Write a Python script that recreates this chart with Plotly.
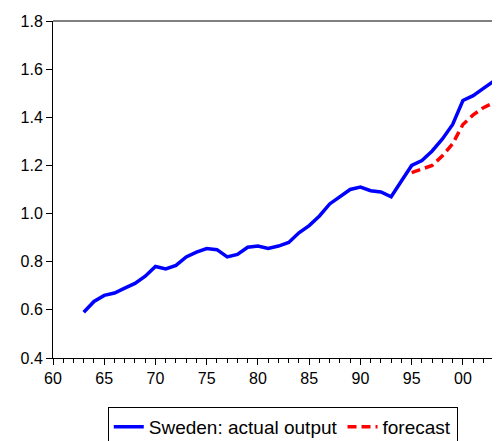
import plotly.graph_objects as go

years = list(range(1963, 2005))
actual = [0.59,0.635,0.66,0.67,0.69,0.71,0.74,0.78,0.77,0.785,0.82,0.84,0.855,0.85,0.82,0.83,0.86,0.865,0.855,0.865,0.88,0.92,0.95,0.99,1.04,1.07,1.10,1.11,1.095,1.09,1.07,1.135,1.2,1.22,1.26,1.31,1.37,1.47,1.49,1.52,1.55,1.6]
f_years = list(range(1995, 2005))
forecast = [1.17,1.185,1.2,1.24,1.29,1.37,1.41,1.44,1.46,1.48]
tick_vals = [1960,1965,1970,1975,1980,1985,1990,1995,2000]
tick_text = ["60","65","70","75","80","85","90","95","00"]

fig = go.Figure()
fig.add_trace(go.Scatter(x=years, y=actual, mode="lines", name="Sweden: actual output",
                         line=dict(color="#0000ff", width=3.5)))
fig.add_trace(go.Scatter(x=f_years, y=forecast, mode="lines", name="forecast",
                         line=dict(color="#ff0000", width=3.5, dash="9px,5px")))
fig.update_layout(
    width=500, height=433, plot_bgcolor="white", paper_bgcolor="white",
    margin=dict(l=45, r=0, t=13, b=83, autoexpand=False),
    font=dict(family="Liberation Sans, Arial", size=16, color="black"),
    legend=dict(orientation="h", x=0.505, xanchor="center", y=-0.145, yanchor="top",
                bordercolor="black", borderwidth=1, font=dict(size=19)),
)
fig.update_xaxes(range=[1960, 2004.4], tickvals=tick_vals, ticktext=tick_text, automargin=False,
                 ticks="outside", ticklen=6, tickcolor="black", showgrid=False,
                 showline=True, linecolor="black", mirror=False, zeroline=False,
                 minor=dict(dtick=1, ticks="outside", ticklen=4, tickcolor="black"))
fig.update_yaxes(range=[0.4, 1.8], dtick=0.2, tickformat=".1f", ticks="outside", ticklen=6,
                 tickcolor="black", showgrid=False, showline=True, linecolor="black",
                 zeroline=False, automargin=False)
fig.add_shape(type="line", xref="paper", yref="paper", x0=0, x1=1, y0=1, y1=1,
              line=dict(color="black", width=1))
fig.write_html("out.html")
